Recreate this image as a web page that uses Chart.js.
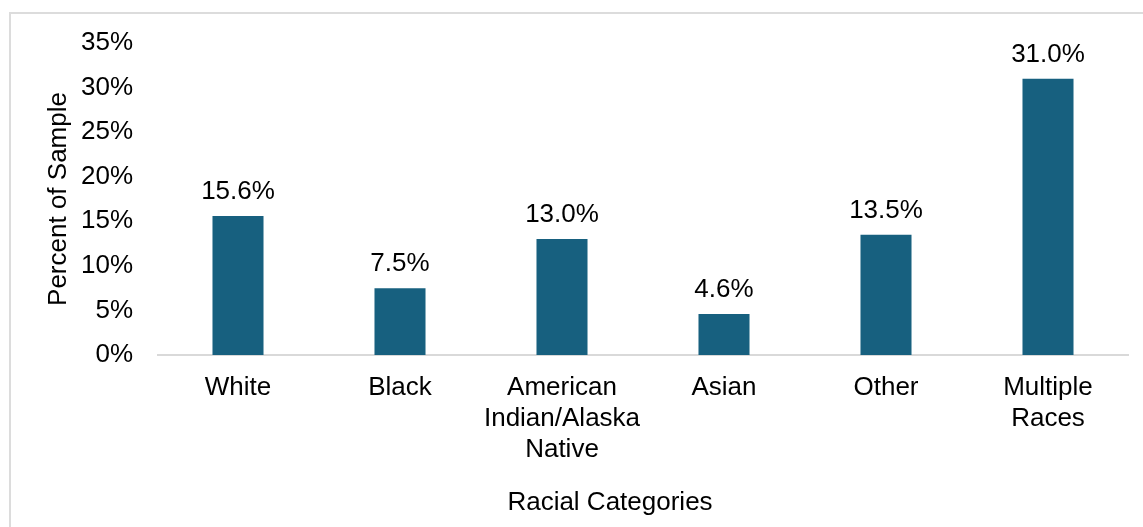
<!DOCTYPE html>
<html>
<head>
<meta charset="utf-8">
<script src="https://cdn.jsdelivr.net/npm/chart.js@4"></script>
<style>
  html, body { margin: 0; padding: 0; background: #fff; }
  #wrap { position: relative; width: 1143px; height: 527px; overflow: hidden; }
  #frame {
    position: absolute; left: 9px; top: 12px; width: 1140px; height: 600px;
    border: 2px solid #dcdcdc; box-sizing: border-box;
  }
  #chart { position: absolute; left: 0; top: 0; }
</style>
</head>
<body>
<div id="wrap">
  <div id="frame"></div>
  <canvas id="chart" width="1143" height="527"></canvas>
</div>
<script>
// ===== DATA =====
const categories = ["White", "Black", ["American", "Indian/Alaska", "Native"], "Asian", "Other", ["Multiple", "Races"]];
const percentages = [15.6, 7.5, 13.0, 4.6, 13.5, 31.0];
const yTicks = [0, 5, 10, 15, 20, 25, 30, 35];
const xTitle = "Racial Categories";

const FONT = "'Liberation Sans', Arial, sans-serif";
const barColor = "#17607f";

// value labels above each bar, axis line and the x title
const extras = {
    id: "extras",
    beforeDatasetsDraw(chart){
        const {ctx, chartArea, scales} = chart;
        const y0 = scales.y.getPixelForValue(0);
        ctx.save();
        ctx.strokeStyle = "#d9d9d9";
        ctx.lineWidth = 2;
        ctx.beginPath();
        ctx.moveTo(chartArea.left, y0);
        ctx.lineTo(chartArea.right, y0);
        ctx.stroke();
        ctx.restore();
    },
    afterDatasetsDraw(chart){
        const {ctx} = chart;
        const meta = chart.getDatasetMeta(0);
        ctx.save();
        ctx.font = `26px ${FONT}`;
        ctx.fillStyle = "#000";
        ctx.textAlign = "center";
        ctx.textBaseline = "alphabetic";
        meta.data.forEach((bar, i)=>{
            ctx.fillText(percentages[i].toFixed(1) + "%", bar.x, bar.y - 17);
        });
        ctx.textBaseline = "middle";
        ctx.fillText(xTitle, 610, 503);
        ctx.restore();
    }
};

const chart = new Chart(document.getElementById("chart"), {
    type: "bar",
    data: {
        labels: categories,
        datasets: [{
            data: percentages,
            backgroundColor: barColor,
            borderWidth: 0,
            categoryPercentage: 1,
            barPercentage: 0.315
        }]
    },
    options: {
        responsive: false,
        animation: false,
        devicePixelRatio: 1,
        layout: { padding: { top: 43, right: 14, bottom: 0, left: 0 } },
        plugins: { legend: { display: false }, tooltip: { enabled: false } },
        scales: {
            x: {
                grid: { display: false, drawTicks: false },
                border: { display: false },
                ticks: { color: "#000", font: { family: FONT, size: 26 }, padding: 17, maxRotation: 0, autoSkip: false },
                afterFit(scale){ scale.height = 172; }
            },
            y: {
                min: 0, max: 35,
                grid: { display: false, drawTicks: false },
                border: { display: false },
                afterBuildTicks(scale){ scale.ticks = yTicks.map(v=>({value: v})); },
                ticks: {
                    color: "#000", font: { family: FONT, size: 26 }, padding: 24,
                    callback: v => v + "%"
                },
                title: {
                    display: true, text: "Percent of Sample", color: "#000",
                    font: { family: FONT, size: 26 }, padding: { top: 43, bottom: 0 }
                },
                afterFit(scale){ scale.width = 157; }
            }
        }
    },
    plugins: [extras]
});
</script>
</body>
</html>
